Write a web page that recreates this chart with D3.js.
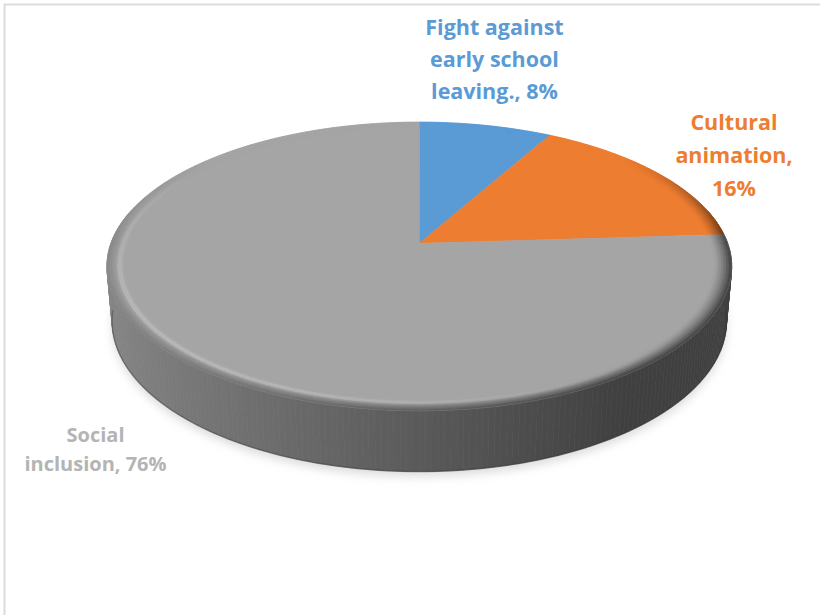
<!DOCTYPE html>
<html>
<head>
<meta charset="utf-8">
<script src="https://cdn.jsdelivr.net/npm/d3@7"></script>
<style>
  html, body { margin: 0; padding: 0; background: #fff; }
  svg { display: block; }
</style>
</head>
<body>
<script>
// ---- data ----
const categories = ["Fight against early school leaving.", "Cultural animation", "Social inclusion"];
const shares = [8, 16, 76];
// label wrapping; {v} is replaced by the slice share
const labelLines = [
  ["Fight against", "early school", "leaving., {v}"],
  ["Cultural", "animation,", "{v}"],
  ["Social", "inclusion, {v}"]
];
const sliceColors = ["#5B9BD5", "#ED7D31", "#A5A5A5"];
const labelColors = ["#5B9BD5", "#ED7D31", "#B4B4B4"];

// ---- layout ----
const W = 820, H = 615;
const cam = { cx: 419.3, cy: 243.3, f: 1713, D: 1, sinE: 0.456, cosE: 0.89 };
const R = 0.18;          // disk radius (world units)
const depth = 0.2 * R;   // disk thickness
const bevel = 0.055;     // rim width as a share of R
const bands = 7;
const labelPos = [
  { x: 494.5, y: [34.5, 66.5, 99], size: 21.5 },
  { x: 734, y: [129.5, 163, 195.5], size: 21.5 },
  { x: 95.5, y: [441.5, 471], size: 20 }
];

// perspective projection of a world point (x right, y up, z away)
function project(x, y, z) {
  const px = x;
  const py = y * cam.cosE + z * cam.sinE;
  const pz = cam.D + z * cam.cosE - y * cam.sinE;
  return [cam.cx + cam.f * px / pz, cam.cy - cam.f * py / pz, pz];
}
const pt = (a, r, y) => project(r * Math.sin(a), y, r * Math.cos(a));

const svg = d3.select("body").append("svg").attr("width", W).attr("height", H);
const defs = svg.append("defs");
defs.append("filter").attr("id", "soft").attr("x", "-20%").attr("y", "-20%").attr("width", "140%").attr("height", "140%")
  .append("feGaussianBlur").attr("stdDeviation", 5);

// frame
svg.append("line").attr("x1", 4).attr("x2", W).attr("y1", 4.5).attr("y2", 4.5).attr("stroke", "#dcdcdc").attr("stroke-width", 2);
svg.append("line").attr("x1", 4.5).attr("x2", 4.5).attr("y1", 4).attr("y2", H).attr("stroke", "#dcdcdc").attr("stroke-width", 2);

const arcs = d3.pie().sort(null).value(d => d)(shares);
const line = d3.line().curve(d3.curveLinearClosed);
const deg = Math.PI / 180;

function sliceOf(a) {
  const n = ((a % (2 * Math.PI)) + 2 * Math.PI) % (2 * Math.PI);
  return arcs.findIndex(s => n >= s.startAngle && n < s.endAngle + 1e-9);
}
function shade(color, k) {
  const c = d3.rgb(color);
  return d3.rgb(Math.min(255, c.r * k), Math.min(255, c.g * k), Math.min(255, c.b * k)).formatHex();
}
// brightness of the vertical side, relative to the top face
function sideLight(a) {
  const s = -Math.sin(a);
  return Math.max(64, 90 + 45 * s) / 165;
}
function highlight(a) {
  return Math.max(0, 0.7 * -Math.cos(a) + 0.5 * -Math.sin(a));
}

const g = svg.append("g");

// soft ground shadow
const bottomRing = d3.range(0, 360, 2).map(d => pt(d * deg, R, -depth)).map(p => [p[0], p[1] + 5]);
g.append("path").attr("d", line(bottomRing)).attr("fill", "#c4c4c4").attr("opacity", 0.6).attr("filter", "url(#soft)");

// side wall, drawn back to front
const sideQuads = [];
for (let d = 0; d < 360; d += 1) {
  const a0 = d * deg, a1 = (d + 1) * deg, am = (d + 0.5) * deg;
  if (Math.cos(am) > 0.25) continue;
  const p = [pt(a0, R, 0), pt(a1, R, 0), pt(a1, R, -depth), pt(a0, R, -depth)];
  const col = shade(sliceColors[sliceOf(am)], sideLight(am));
  sideQuads.push({ p, col, z: d3.mean(p, q => q[2]) });
}
sideQuads.sort((u, v) => v.z - u.z);
g.selectAll("path.side").data(sideQuads).join("path").attr("class", "side")
  .attr("d", q => line(q.p.map(v => [v[0], v[1]])))
  .attr("fill", q => q.col).attr("stroke", q => q.col).attr("stroke-width", 0.7);

// darker lower lip of the wall
const lip = d3.range(95, 266, 1).map(d => pt(d * deg, R, -depth)).map(p => [p[0], p[1]]);
g.append("path").attr("d", d3.line()(lip)).attr("fill", "none").attr("stroke", "#2e2e2e").attr("stroke-opacity", 0.35).attr("stroke-width", 1.5);

// flat top face, one polygon per slice
g.selectAll("path.top").data(arcs).join("path").attr("class", "top")
  .attr("d", s => {
    const n = Math.max(2, Math.ceil((s.endAngle - s.startAngle) / deg));
    const pts = [pt(0, 0, 0)].concat(d3.range(n + 1).map(i => pt(s.startAngle + (s.endAngle - s.startAngle) * i / n, R, 0)));
    return line(pts.map(v => [v[0], v[1]]));
  })
  .attr("fill", (s, i) => sliceColors[i]).attr("stroke", (s, i) => sliceColors[i]).attr("stroke-width", 0.5);

// rounded rim: thin rings shaded from the top colour to the wall colour
const rim = [];
arcs.forEach((s, i) => {
  const n = Math.max(2, Math.ceil((s.endAngle - s.startAngle) / deg));
  for (let k = 0; k < n; k++) {
    const a0 = s.startAngle + (s.endAngle - s.startAngle) * k / n;
    const a1 = s.startAngle + (s.endAngle - s.startAngle) * (k + 1) / n;
    const am = (a0 + a1) / 2;
    const back = 1 - Math.min(1, Math.max(0, Math.cos(am) * 1.5));
    for (let j = 0; j < bands; j++) {
      const t0 = j / bands, t1 = (j + 1) / bands, tm = (t0 + t1) / 2;
      const r0 = R * (1 - bevel * (1 - t0)), r1 = R * (1 - bevel * (1 - t1));
      const m = Math.pow(tm, 1.4) * back;
      const bump = Math.exp(-Math.pow((tm - 0.3) / 0.16, 2));
      const k2 = 1 + (sideLight(am) - 1) * m + 0.22 * highlight(am) * bump;
      const p = [pt(a0, r0, 0), pt(a1, r0, 0), pt(a1, r1, 0), pt(a0, r1, 0)];
      const col = shade(sliceColors[i], k2);
      rim.push({ p, col });
    }
  }
});
g.selectAll("path.rim").data(rim).join("path").attr("class", "rim")
  .attr("d", q => line(q.p.map(v => [v[0], v[1]])))
  .attr("fill", q => q.col).attr("stroke", q => q.col).attr("stroke-width", 0.6);

// labels
const labels = svg.append("g").attr("font-family", "'Open Sans', sans-serif")
  .attr("font-weight", "bold").attr("text-anchor", "middle");
labelLines.forEach((lines, i) => {
  const t = labels.append("text").attr("fill", labelColors[i]).attr("font-size", labelPos[i].size);
  lines.forEach((ln, j) => {
    t.append("tspan").attr("x", labelPos[i].x).attr("y", labelPos[i].y[j])
      .text(ln.replace("{v}", shares[i] + "%"));
  });
});
</script>
</body>
</html>
